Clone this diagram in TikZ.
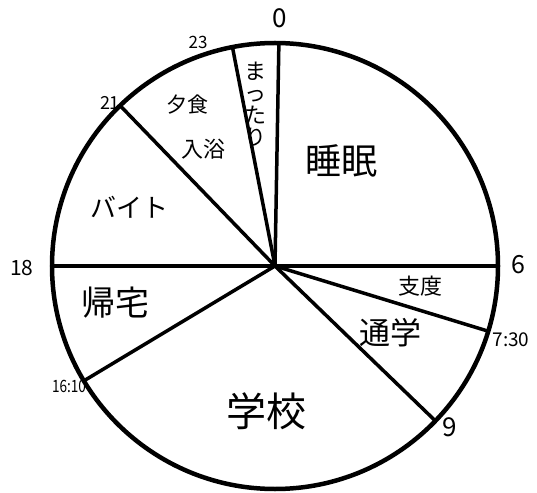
\documentclass[tikz,border=0pt]{standalone}
\usepackage{fontspec}
\newfontfamily\jp{Noto Sans CJK JP}
\usetikzlibrary{positioning}

\begin{document}
\begin{tikzpicture}[x=1pt, y=1pt, line width=3.5pt, line cap=round,
  act/.style={font=\jp\fontsize{#1}{#1}\selectfont, inner sep=0pt},
  hour/.style={font=\jp\fontsize{#1}{#1}\selectfont, inner sep=0pt}]

\useasboundingbox (-275,-226) rectangle (262,266);

% centre and the hours on the rim
\coordinate (o) at (0,0);
\coordinate (h0) at (89:223);
\coordinate (h23) at (101:223);
\coordinate (h21) at (134:223);
\coordinate (h18) at (180:223);
\coordinate (h1610) at (211:223);
\coordinate (h9) at (316:223);
\coordinate (h730) at (343:223);
\coordinate (h6) at (0:223);

\draw[line width=4.5pt] (o) circle (223);

\draw (o) -- (h0);
\draw (o) -- (h23);
\draw (o) -- (h21);
\draw (o) -- (h18);
\draw (o) -- (h1610);
\draw (o) -- (h9);
\draw (o) -- (h730);
\draw (o) -- (h6);

% hours
\node[hour=26] (t0) at (5,248) {0};
\node[hour=17] (t23) at (-77,224) {23};
\node[hour=18] (t21) at (-165,163) {21};
\node[hour=21] (t18) at (-253,-2) {18};
\node[hour=17, xscale=0.8] (t1610) at (-206,-120) {16:10};
\node[hour=26] (t9) at (175,-161) {9};
\node[hour=19] (t730) at (236,-74) {7:30};
\node[hour=25] (t6) at (243,1) {6};

% what is done
\node[act=36] (sleep) at (66,105) {睡眠};
\node[act=22, align=center] (relax) at (-20,162) {ま\\っ\\た\\り};
\node[act=21] (dinner) at (-88,161) {夕食};
\node[act=22] (bath) at (-72,117) {入浴};
\node[act=26] (job) at (-145,59) {バイト};
\node[act=34] (home) at (-159,-37) {帰宅};
\node[act=40] (school) at (-9,-145) {学校};
\node[act=31] (commute) at (115,-67) {通学};
\node[act=22] (prep) at (145,-20) {支度};

\end{tikzpicture}
\end{document}
